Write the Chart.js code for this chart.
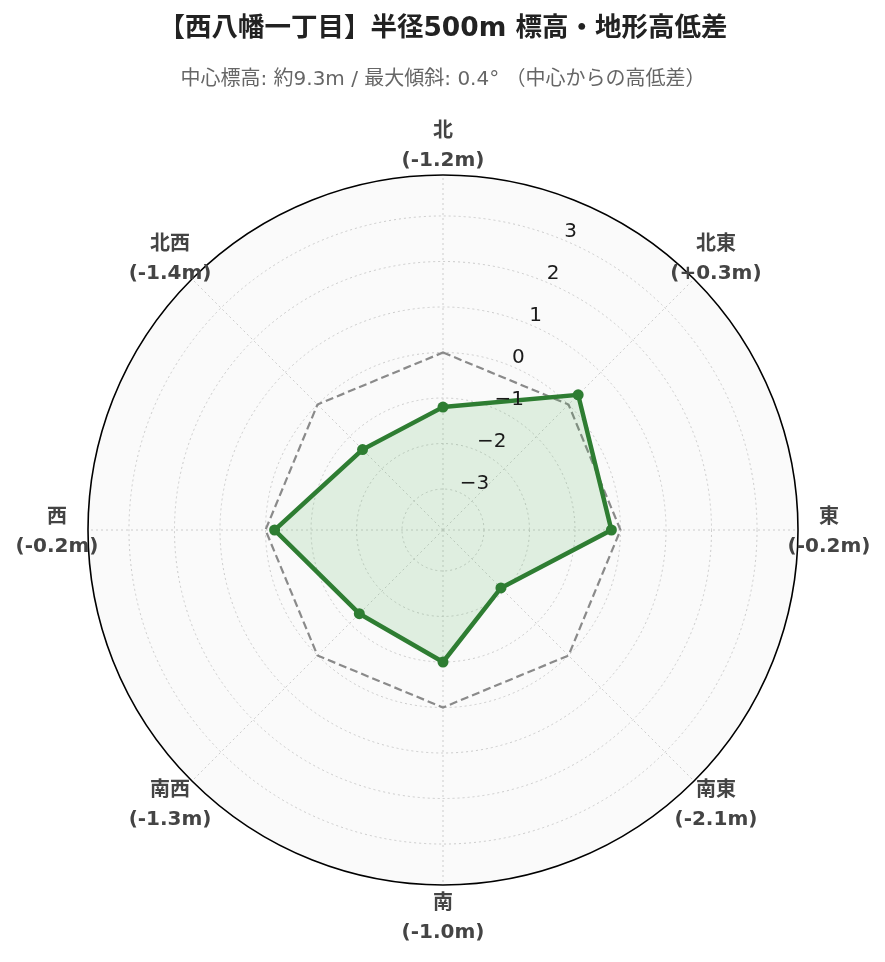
<!DOCTYPE html>
<html lang="ja">
<head>
<meta charset="utf-8">
<title>西八幡一丁目 標高・地形高低差</title>
<script src="https://cdn.jsdelivr.net/npm/chart.js@4.4.1/dist/chart.umd.min.js"></script>
<style>
  html, body { margin: 0; padding: 0; background: #ffffff; }
  canvas { display: block; }
</style>
</head>
<body>
<canvas id="terrain-radar" width="885" height="962"></canvas>
<script>
const FONT = '"DejaVu Sans", "Noto Sans CJK JP", sans-serif';

const directions = ['北', '北東', '東', '南東', '南', '南西', '西', '北西'];
const elevationDiffs = [-1.2, 0.3, -0.2, -2.1, -1.0, -1.3, -0.2, -1.4];
const baseline = [0, 0, 0, 0, 0, 0, 0, 0];
const radialTicks = [-3, -2, -1, 0, 1, 2, 3];
const radialMin = -3.9;
const radialMax = 3.9;

const titleText = '【西八幡一丁目】半径500m 標高・地形高低差';
const subtitleText = '中心標高: 約9.3m / 最大傾斜: 0.4° （中心からの高低差）';

function diffLabel(v) {
  return '(' + (v > 0 ? '+' : '') + v.toFixed(1) + 'm)';
}

// outer ring, radial tick labels and direction labels
const polarDecor = {
  id: 'polarDecor',
  beforeDatasetsDraw(chart) {
    const scale = chart.scales.r;
    const ctx = chart.ctx;
    ctx.save();
    ctx.beginPath();
    ctx.arc(scale.xCenter, scale.yCenter, scale.getDistanceFromCenterForValue(scale.max), 0, Math.PI * 2);
    ctx.strokeStyle = '#000000';
    ctx.lineWidth = 1.6;
    ctx.stroke();
    ctx.restore();
  },
  afterDatasetsDraw(chart) {
    const scale = chart.scales.r;
    const ctx = chart.ctx;
    ctx.save();

    ctx.font = '20px ' + FONT;
    ctx.fillStyle = '#1a1a1a';
    ctx.textAlign = 'left';
    ctx.textBaseline = 'middle';
    radialTicks.forEach(v => {
      const p = scale.getPointPosition(0, scale.getDistanceFromCenterForValue(v), Math.PI / 8);
      const txt = v < 0 ? '\u2212' + Math.abs(v) : String(v);
      ctx.fillText(txt, p.x + 1, p.y - 8.5);
    });

    ctx.font = 'bold 20px ' + FONT;
    ctx.fillStyle = '#444444';
    ctx.textAlign = 'center';
    directions.forEach((name, i) => {
      const p = scale.getPointPosition(i, scale.drawingArea + 31);
      ctx.fillText(name, p.x, p.y - 12);
      ctx.fillText(diffLabel(elevationDiffs[i]), p.x, p.y + 17);
    });
    ctx.restore();
  }
};

const ctx = document.getElementById('terrain-radar').getContext('2d');

new Chart(ctx, {
  type: 'radar',
  data: {
    labels: directions,
    datasets: [
      {
        label: '高低差',
        data: elevationDiffs,
        borderColor: '#2e7d32',
        backgroundColor: 'rgba(76, 175, 80, 0.15)',
        borderWidth: 4.5,
        fill: 'start',
        pointRadius: 5.5,
        pointBackgroundColor: '#2e7d32',
        pointBorderColor: '#2e7d32',
        pointBorderWidth: 0,
      },
      {
        label: '中心標高',
        data: baseline,
        borderColor: '#8a8a8a',
        borderWidth: 2.2,
        borderDash: [8, 4],
        fill: false,
        pointRadius: 0,
      }
    ]
  },
  options: {
    responsive: false,
    animation: false,
    layout: {
      padding: { left: 88, right: 87, top: 0, bottom: 77 }
    },
    elements: {
      line: { tension: 0 }
    },
    scales: {
      r: {
        min: radialMin,
        max: radialMax,
        backgroundColor: '#fafafa',
        ticks: { display: false, stepSize: 1, includeBounds: false },
        grid: { circular: true, color: '#cccccc', lineWidth: 1 },
        border: { dash: [2, 3] },
        angleLines: { color: '#cccccc', lineWidth: 1, borderDash: [2, 3] },
        pointLabels: { display: false }
      }
    },
    plugins: {
      legend: { display: false },
      tooltip: { enabled: false },
      title: {
        display: true,
        text: titleText,
        color: '#222222',
        font: { family: FONT, size: 26.5, weight: 'bold' },
        padding: { top: 13, bottom: 9 }
      },
      subtitle: {
        display: true,
        text: subtitleText,
        color: '#666666',
        font: { family: FONT, size: 20 },
        padding: { top: 14, bottom: 83.2 }
      }
    }
  },
  plugins: [polarDecor]
});
</script>
</body>
</html>
